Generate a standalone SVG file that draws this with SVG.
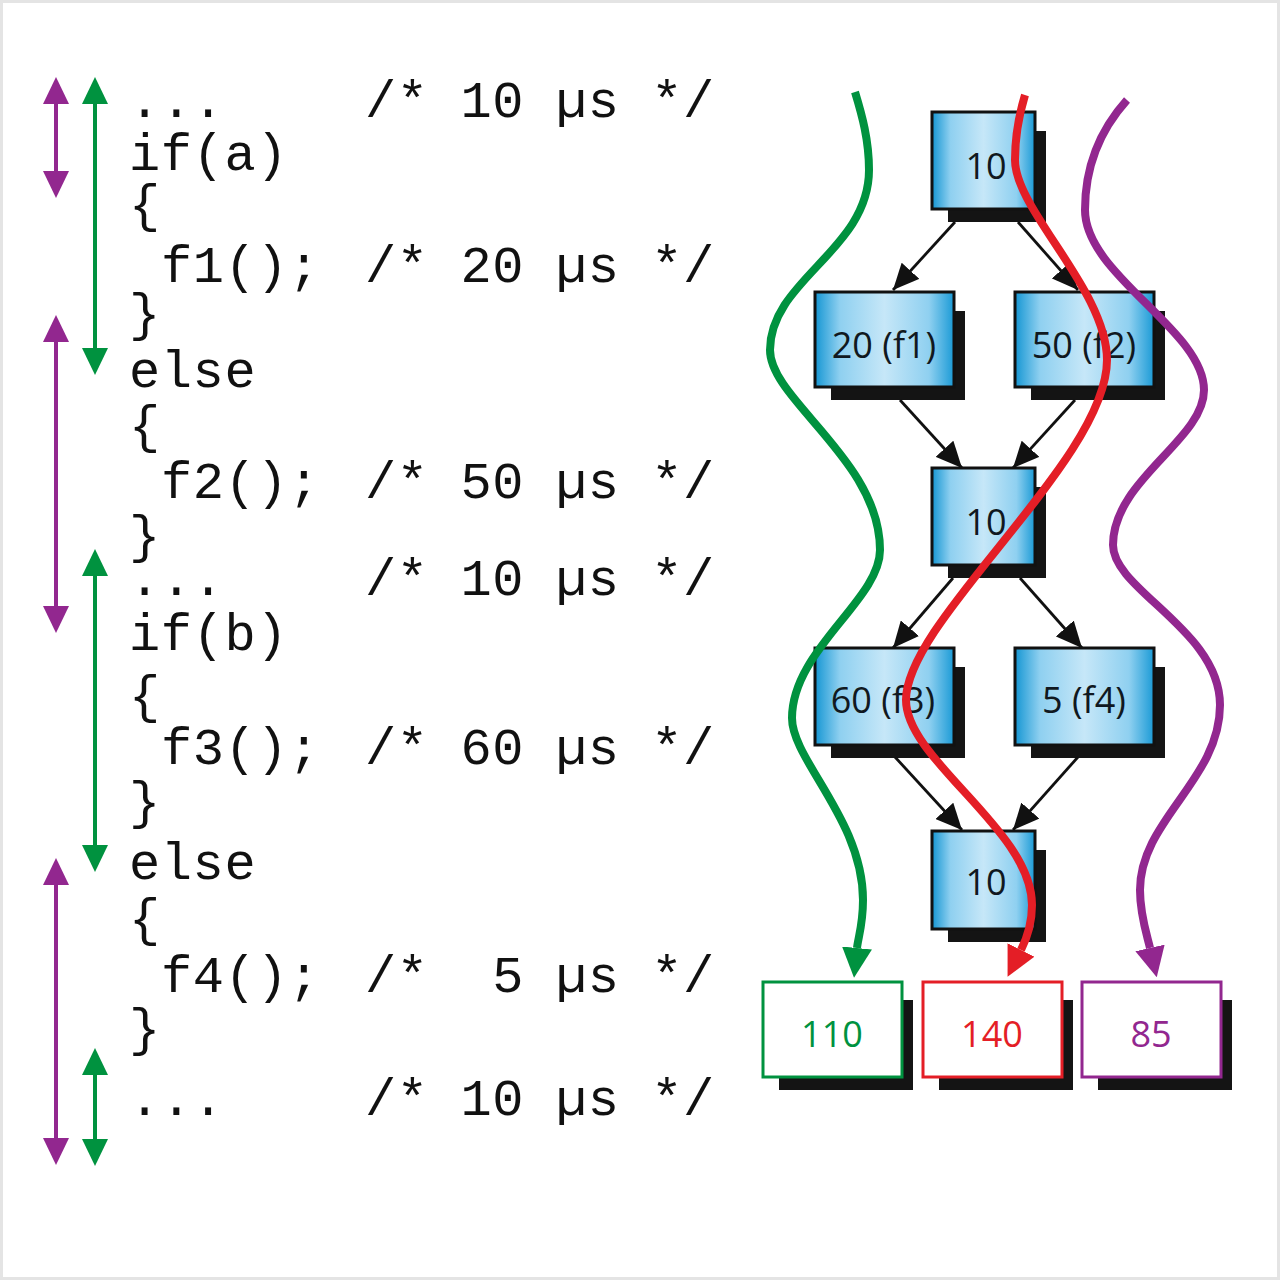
<svg xmlns="http://www.w3.org/2000/svg" width="1280" height="1280" viewBox="0 0 1280 1280">
<style>
.code{font-family:"Liberation Mono","DejaVu Sans Mono",monospace;font-size:52px;letter-spacing:0.6px;fill:#111;}
.lbl{font-family:"Open Sans","Noto Sans",sans-serif;font-size:36px;fill:#101820;text-anchor:middle;}
.box{fill:url(#blue);stroke:#111;stroke-width:3;}
.shadow{fill:#141414;}
.res{fill:#fff;stroke-width:3;}
.conn{stroke:#111;stroke-width:2.8;fill:none;marker-end:url(#ab);}
.curve{fill:none;stroke-width:8;}
.dbl{stroke-width:4;fill:none;}
</style>
<defs>
<linearGradient id="blue" x1="0" y1="0" x2="1" y2="0">
<stop offset="0" stop-color="#1596d3"/>
<stop offset="0.18" stop-color="#8fd0f0"/>
<stop offset="0.5" stop-color="#c6e7f8"/>
<stop offset="0.82" stop-color="#8fd0f0"/>
<stop offset="1" stop-color="#1a9ad6"/>
</linearGradient>
<marker id="ab" markerUnits="userSpaceOnUse" viewBox="0 0 26 24" refX="26" refY="12" markerWidth="26" markerHeight="24" orient="auto">
<path d="M0,0 L26,12 L0,24 z" fill="#111"/>
</marker>
<marker id="mp" markerUnits="userSpaceOnUse" viewBox="0 -13 27 26" refX="0" refY="0" markerWidth="27" markerHeight="26" orient="auto-start-reverse">
<path d="M0,-13 L27,0 L0,13 z" fill="#92278f"/>
</marker>
<marker id="mg" markerUnits="userSpaceOnUse" viewBox="0 -13 27 26" refX="0" refY="0" markerWidth="27" markerHeight="26" orient="auto-start-reverse">
<path d="M0,-13 L27,0 L0,13 z" fill="#00923f"/>
</marker>
<marker id="cg" markerUnits="userSpaceOnUse" viewBox="0 -15 30 30" refX="0" refY="0" markerWidth="30" markerHeight="30" orient="auto">
<path d="M0,-15 L30,0 L0,15 z" fill="#00923f"/>
</marker>
<marker id="cr" markerUnits="userSpaceOnUse" viewBox="0 -15 30 30" refX="0" refY="0" markerWidth="30" markerHeight="30" orient="auto">
<path d="M0,-15 L30,0 L0,15 z" fill="#e41e26"/>
</marker>
<marker id="cp" markerUnits="userSpaceOnUse" viewBox="0 -15 30 30" refX="0" refY="0" markerWidth="30" markerHeight="30" orient="auto">
<path d="M0,-15 L30,0 L0,15 z" fill="#92278f"/>
</marker>
</defs>
<rect x="0" y="0" width="1280" height="1280" fill="#fff"/>
<rect x="1.5" y="1.5" width="1277" height="1277" fill="none" stroke="#e4e4e4" stroke-width="3"/>

<g id="code">
<text class="code" x="129" y="117">...</text><text class="code" x="365" y="117">/* 10 µs */</text>
<text class="code" x="129" y="170">if(a)</text>
<text class="code" x="129" y="221">{</text>
<text class="code" x="161" y="282">f1();</text><text class="code" x="365" y="282">/* 20 µs */</text>
<text class="code" x="129" y="330">}</text>
<text class="code" x="129" y="387">else</text>
<text class="code" x="129" y="442">{</text>
<text class="code" x="161" y="498">f2();</text><text class="code" x="365" y="498">/* 50 µs */</text>
<text class="code" x="129" y="552">}</text>
<text class="code" x="129" y="595">...</text><text class="code" x="365" y="595">/* 10 µs */</text>
<text class="code" x="129" y="650">if(b)</text>
<text class="code" x="129" y="712">{</text>
<text class="code" x="161" y="764">f3();</text><text class="code" x="365" y="764">/* 60 µs */</text>
<text class="code" x="129" y="818">}</text>
<text class="code" x="129" y="879">else</text>
<text class="code" x="129" y="935">{</text>
<text class="code" x="161" y="992">f4();</text><text class="code" x="365" y="992" xml:space="preserve">/*  5 µs */</text>
<text class="code" x="129" y="1045">}</text>
<text class="code" x="129" y="1115">...</text><text class="code" x="365" y="1115">/* 10 µs */</text>
</g>

<g id="n_top"><rect class="shadow" x="948" y="131" width="98" height="91"/><rect class="box" x="932" y="112" width="103" height="97"/><text class="lbl" x="986" y="179">10</text></g>
<g id="n_f1"><rect class="shadow" x="831" y="311" width="134" height="89"/><rect class="box" x="815" y="292" width="139" height="95"/><text class="lbl" x="884" y="358">20 (f1)</text></g>
<g id="n_f2"><rect class="shadow" x="1031" y="311" width="134" height="89"/><rect class="box" x="1015" y="292" width="139" height="95"/><text class="lbl" x="1084" y="358">50 (f2)</text></g>
<g id="n_mid"><rect class="shadow" x="948" y="487" width="98" height="91"/><rect class="box" x="932" y="468" width="103" height="97"/><text class="lbl" x="986" y="535">10</text></g>
<g id="n_f3"><rect class="shadow" x="831" y="667" width="134" height="91"/><rect class="box" x="815" y="648" width="139" height="97"/><text class="lbl" x="883" y="713">60 (f3)</text></g>
<g id="n_f4"><rect class="shadow" x="1031" y="667" width="134" height="91"/><rect class="box" x="1015" y="648" width="139" height="97"/><text class="lbl" x="1084" y="713">5 (f4)</text></g>
<g id="n_bot"><rect class="shadow" x="948" y="850" width="98" height="92"/><rect class="box" x="932" y="831" width="103" height="98"/><text class="lbl" x="986" y="895">10</text></g>

<g id="r_green"><rect class="shadow" x="779" y="1000" width="134" height="90"/><rect class="res" x="763" y="982" width="139" height="95" stroke="#00923f"/><text class="lbl" x="832" y="1047" style="fill:#00923f">110</text></g>
<g id="r_red"><rect class="shadow" x="939" y="1000" width="134" height="90"/><rect class="res" x="923" y="982" width="139" height="95" stroke="#e41e26"/><text class="lbl" x="992" y="1047" style="fill:#e41e26">140</text></g>
<g id="r_purple"><rect class="shadow" x="1098" y="1000" width="134" height="90"/><rect class="res" x="1082" y="982" width="139" height="95" stroke="#92278f"/><text class="lbl" x="1151" y="1047" style="fill:#92278f">85</text></g>

<g id="connectors">
<line class="conn" x1="955" y1="222" x2="893" y2="290"/>
<line class="conn" x1="1018" y1="222" x2="1078" y2="290"/>
<line class="conn" x1="900" y1="400" x2="962" y2="468"/>
<line class="conn" x1="1075" y1="400" x2="1013" y2="468"/>
<line class="conn" x1="953" y1="578" x2="893" y2="648"/>
<line class="conn" x1="1020" y1="578" x2="1082" y2="648"/>
<line class="conn" x1="895" y1="757" x2="962" y2="830"/>
<line class="conn" x1="1078" y1="757" x2="1013" y2="830"/>

<path class="curve" stroke="#00923f" marker-end="url(#cg)" d="M855,92 C862,115 869,140 869,170 C869,250 770,280 770,350 C770,400 880,460 880,550 C880,600 792,650 792,718 C792,760 863,820 863,900 C863,925 858,938 857,948"/>
<path class="curve" stroke="#e41e26" marker-end="url(#cr)" d="M1025,95 C1019,115 1015,135 1015,160 C1015,210 1107,290 1107,360 C1107,460 906,620 906,700 C906,760 1032,830 1032,905 C1032,925 1026,940 1021,950"/>
<path class="curve" stroke="#92278f" marker-end="url(#cp)" d="M1127,100 C1100,130 1085,165 1085,210 C1085,275 1204,330 1204,390 C1204,440 1113,480 1113,545 C1113,590 1220,630 1220,705 C1220,780 1140,820 1140,890 C1140,915 1147,935 1150,948"/>

<path class="dbl" stroke="#92278f" marker-start="url(#mp)" marker-end="url(#mp)" d="M56,104 L56,171"/>
<path class="dbl" stroke="#00923f" marker-start="url(#mg)" marker-end="url(#mg)" d="M95,104 L95,348"/>
<path class="dbl" stroke="#92278f" marker-start="url(#mp)" marker-end="url(#mp)" d="M56,342 L56,606"/>
<path class="dbl" stroke="#00923f" marker-start="url(#mg)" marker-end="url(#mg)" d="M95,576 L95,845"/>
<path class="dbl" stroke="#92278f" marker-start="url(#mp)" marker-end="url(#mp)" d="M56,885 L56,1138"/>
<path class="dbl" stroke="#00923f" marker-start="url(#mg)" marker-end="url(#mg)" d="M95,1075 L95,1139"/>
</g>
</svg>
